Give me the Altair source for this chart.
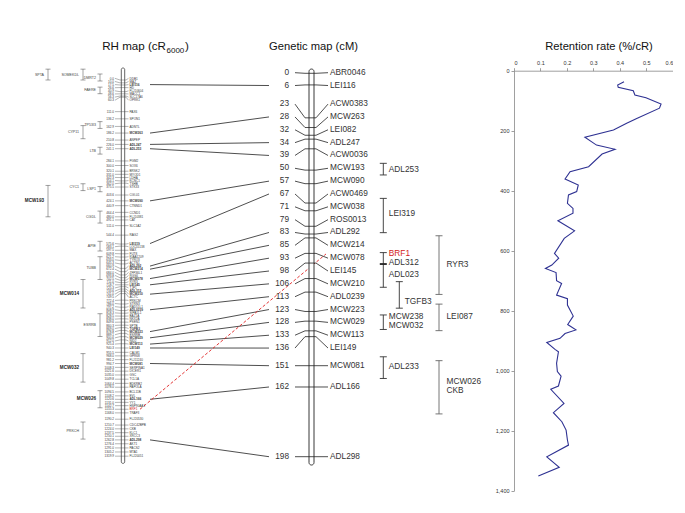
import altair as alt
import pandas as pd

# ---------------- Genetic map (cM) ----------------
gen_cm = [0, 6, 23, 28, 32, 34, 39, 50, 57, 67, 71, 79, 83, 85, 93, 98, 106, 113,
          123, 128, 133, 136, 151, 162, 198]
gen_names = ["ABR0046", "LEI116", "ACW0383", "MCW263", "LEI082", "ADL247", "ACW0036",
             "MCW193", "MCW090", "ACW0469", "MCW038", "ROS0013", "ADL292", "MCW214",
             "MCW078", "LEI145", "MCW210", "ADL0239", "MCW223", "MCW029", "MCW113",
             "LEI149", "MCW081", "ADL166", "ADL298"]

# brackets right of the genetic map (cM extents, column)
gb_start = [46.5, 64.6, 92.6, 107.6, 124.8, 146.4, 83.9, 119.2, 148.4]
gb_end = [52.5, 82.3, 110.5, 121.3, 132.3, 157.6, 114.2, 132.9, 175.9]
gb_col = ["a", "a", "a", "b", "a", "a", "c", "c", "c"]
gbl_text = ["ADL253", "LEI319", "BRF1", "ADL312", "ADL023", "TGFB3", "MCW238", "MCW032",
            "ADL233", "RYR3", "LEI087", "MCW026", "CKB"]
gbl_cm = [49.7, 72.7, 93.3, 98.2, 104.0, 117.9, 126.0, 130.5, 151.5, 99.0, 125.7, 159.3, 163.9]
gbl_col = ["a", "a", "a", "a", "a", "b", "a", "a", "a", "c", "c", "c", "c"]
gb_mid_cm = [98.5]

# ---------------- RH map (cR6000) ----------------
rh_cr = [0.0, 10.0, 17.5, 26.6, 40.9, 48.6, 56.3, 60.3, 111.0, 136.2, 162.9, 186.2, 210.8,
         226.0, 241.1, 284.1, 300.0, 320.1, 331.0, 342.3, 354.1, 362.0, 375.5, 403.6, 424.1,
         440.9, 464.4, 480.0, 491.1, 511.0, 544.4, 575.6, 583.1, 597.5, 609.8, 621.2, 633.0,
         645.3, 660.9, 672.4, 684.0, 693.8, 702.5, 711.0, 718.7, 725.3, 733.6, 741.0, 749.5,
         772.4, 786.0, 797.2, 808.9, 818.3, 828.5, 838.0, 849.6, 860.3, 869.0, 878.8, 889.1,
         900.6, 912.0, 925.4, 940.3, 955.5, 968.0, 981.2, 994.7, 1008.3, 1021.6, 1035.0,
         1049.8, 1064.4, 1078.0, 1094.5, 1108.2, 1120.6, 1131.0, 1142.7, 1155.3, 1168.0,
         1190.2, 1210.7, 1224.0, 1237.5, 1250.1, 1262.8, 1276.4, 1291.0, 1305.2, 1319.9]
rh_names = ["DDB1", "MAZ", "LEI116", "HD", "FLJ10604", "MACC1", "SLC17A6", "OPRK1", "PAX6",
            "SPON1", "ADNTL", "MCW263", "ANPEP", "ADL247", "ADL253", "PGM2", "SOX6", "BRSK2",
            "MYOD1", "LDHA", "KCNC1", "TSHB", "STK33", "CGI-01", "MCW090", "CTNND1", "CCND1",
            "FLJ10381", "CAT", "SLC1A2", "RAG2", "LEI319", "LOC55138", "MAX", "FUT8",
            "KIAA1209", "TYRO3", "ACTN1", "ADL292", "MCW214", "ZFP36L1", "RGS6", "MCW078",
            "RYR3", "LEI145", "TJP1", "ADL312", "MCW210", "ACTC", "PRKCM", "STRN3", "RAD51L1",
            "ADL0239", "SIPA1L1", "BAZ1A", "NKX2A", "PSEN1", "SPTB", "TGFB3", "MCW223",
            "ESRRB", "MCW029", "NID2", "MCW113", "LEI149", "CALM1", "GPR68", "FLJ11240",
            "MCW081", "SERPINA1", "DICER1", "GSC", "TCL1A", "BDKRB2", "PAPOLA", "BCL11B",
            "EVL", "ADL166", "YY1", "HSP90AA1", "BRF1", "TRAF3", "FLJ20530", "CDC42BPB", "CKB",
            "KLC1", "XRCC3", "ADL298", "AKT1", "PACS2", "MTA1", "FLJ20051"]
rh_bold = ["LEI116", "MCW263", "ADL247", "ADL253", "MCW090", "LEI319", "ADL292", "MCW214",
           "MCW078", "LEI145", "ADL312", "MCW210", "ADL0239", "TGFB3", "MCW223", "MCW029",
           "MCW113", "LEI149", "MCW081", "ADL166", "ADL298"]
rh_red = ["BRF1"]

# brackets left of the RH map (cR extents, level, label)
rb_start = [-21, -38, -38, 25, 146, 160, 236, 374, 364, 370, 460, 566, 620, 700, 820, 960, 1090, 1200]
rb_end = [3.5, 0, 0, 48, 170, 206, 260, 392, 388, 480, 502, 600, 700, 800, 900, 1060, 1150, 1260]
rb_level = [1, 2, 3, 1, 1, 2, 1, 1, 2, 3, 1, 1, 1, 2, 1, 2, 1, 2]
rb_label = ["DMRT2", "SOMEKDL", "SPTA", "FAERE", "TP53I3", "CYP11", "LTB", "LSP1", "CYC1",
            "MCW193", "CGDL", "APIE", "TUBB", "MCW014", "ESRRB", "MCW032", "MCW026", "PRKCH"]
rb_bold = ["MCW193", "MCW014", "MCW032", "MCW026"]

# RH -> genetic map links
link_rh = ["LEI116", "MCW263", "ADL247", "ADL253", "MCW090", "LEI319", "ADL292", "MCW214",
           "MCW078", "LEI145", "MCW210", "ADL0239", "MCW223", "MCW029", "MCW113", "LEI149",
           "MCW081", "ADL166", "ADL298"]
link_gen = ["LEI116", "MCW263", "ADL247", "ACW0036", "MCW090", "ACW0469", "ADL292", "MCW214",
            "MCW078", "LEI145", "MCW210", "ADL0239", "MCW223", "MCW029", "MCW113", "LEI149",
            "MCW081", "ADL166", "ADL298"]

# ---------------- Retention rate ----------------
ret_cr = [37, 48, 55, 67, 81, 90, 111, 125, 159, 175, 198, 222, 248, 262, 278, 320, 337, 361,
          381, 403, 414, 442, 459, 475, 500, 534, 559, 609, 625, 648, 659, 673, 700, 709, 748,
          760, 781, 818, 846, 864, 876, 892, 906, 929, 937, 975, 1003, 1018, 1051, 1062, 1109,
          1140, 1170, 1198, 1231, 1248, 1287, 1322, 1351]
ret_rate = [0.416, 0.392, 0.394, 0.451, 0.457, 0.499, 0.556, 0.55, 0.464, 0.426, 0.376, 0.268,
            0.312, 0.382, 0.333, 0.282, 0.212, 0.193, 0.243, 0.237, 0.206, 0.202, 0.223, 0.223,
            0.166, 0.229, 0.19, 0.153, 0.169, 0.143, 0.119, 0.159, 0.161, 0.18, 0.161, 0.202,
            0.202, 0.224, 0.203, 0.234, 0.193, 0.174, 0.124, 0.155, 0.168, 0.161, 0.164, 0.178,
            0.168, 0.139, 0.189, 0.149, 0.181, 0.197, 0.202, 0.206, 0.124, 0.171, 0.092]

# ---------------- layout helpers ----------------
FONT = "Liberation Sans"
G_TOP, G_BOT = 65.3, 448.7          # pixel range of 0..198 cM
PX_CM = (G_BOT - G_TOP) / 198.0
RH_Y0, RH_K = 72.0, 0.285           # RH pixel position of 0 cR, px per cR


def rh_u(cr):
    return (RH_Y0 + RH_K * cr - G_TOP) / PX_CM


def spread(pos, gap):
    cl = [{"items": [p], "top": p} for p in pos]
    while True:
        merged = False
        new = []
        for c in cl:
            if new:
                prev = new[-1]
                bottom = prev["top"] + (len(prev["items"]) - 1) * gap
                if c["top"] < bottom + gap - 1e-9:
                    items = prev["items"] + c["items"]
                    mean = sum(items) / len(items)
                    new[-1] = {"items": items, "top": mean - (len(items) - 1) * gap / 2}
                    merged = True
                    continue
            new.append(c)
        cl = new
        if not merged:
            break
    out = []
    for c in cl:
        out += [c["top"] + k * gap for k in range(len(c["items"]))]
    return out


SC = alt.Scale(domain=[0, 198], range=[G_TOP, G_BOT], nice=False, zero=False)


def Y(f):
    return alt.Y(f + ":Q", scale=SC, axis=None)


# genetic map frame
gen_lab = spread(gen_cm, 12.84 / PX_CM)
gdf = pd.DataFrame({"cm": gen_cm, "lab": gen_lab, "name": gen_names,
                    "num": [str(v) for v in gen_cm]})

# RH map frame
rh_px = [RH_Y0 + RH_K * c for c in rh_cr]
rh_lab_px = spread(rh_px, 3.12)
rdf = pd.DataFrame({"u": [rh_u(c) for c in rh_cr],
                    "lab": [(p - G_TOP) / PX_CM for p in rh_lab_px],
                    "name": rh_names,
                    "num": [f"{c:.1f}" for c in rh_cr]})
rdf["bold"] = rdf["name"].isin(rh_bold)
rdf["col"] = ["#d42020" if n in rh_red else "#3a3a3a" for n in rh_names]

layers = []
BLACK = "#222222"

# ---- RH map ----
rh_bar = pd.DataFrame({"t": [rh_u(-42)], "b": [rh_u(1345)]})
layers.append(alt.Chart(rh_bar).mark_rect(fill="white", stroke=BLACK, strokeWidth=0.7,
                                          cornerRadius=1.5)
              .encode(x=alt.value(113.3), x2=alt.value(116.7), y=Y("t"), y2="b:Q"))
layers.append(alt.Chart(rdf).mark_rule(color="#444", strokeWidth=0.4)
              .encode(x=alt.value(107), x2=alt.value(112), y=Y("lab"), y2="u:Q"))
layers.append(alt.Chart(rdf).mark_rule(color="#444", strokeWidth=0.4)
              .encode(x=alt.value(112), x2=alt.value(118), y=Y("u")))
layers.append(alt.Chart(rdf).mark_rule(color="#444", strokeWidth=0.4)
              .encode(x=alt.value(118), x2=alt.value(120.5), y=Y("u"), y2="lab:Q"))
layers.append(alt.Chart(rdf).mark_text(align="right", baseline="middle", fontSize=3.1,
                                       font=FONT, color="#3a3a3a")
              .encode(x=alt.value(106), y=Y("lab"), text="num:N"))
layers.append(alt.Chart(rdf[~rdf["bold"]]).mark_text(align="left", baseline="middle",
                                                     fontSize=3.1, font=FONT)
              .encode(x=alt.value(121.5), y=Y("lab"), text="name:N",
                      color=alt.Color("col:N", scale=None)))
layers.append(alt.Chart(rdf[rdf["bold"]]).mark_text(align="left", baseline="middle",
                                                    fontSize=3.2, font=FONT, fontWeight="bold")
              .encode(x=alt.value(121.5), y=Y("lab"), text="name:N",
                      color=alt.Color("col:N", scale=None)))

# RH brackets
lvl_x = {1: 92, 2: 75, 3: 40}
rbdf = pd.DataFrame({"t": [rh_u(c) for c in rb_start], "b": [rh_u(c) for c in rb_end],
                     "lvl": rb_level, "label": rb_label})
rbdf["mid"] = (rbdf["t"] + rbdf["b"]) / 2
for lv, xx in lvl_x.items():
    sub = rbdf[rbdf["lvl"] == lv]
    layers.append(alt.Chart(sub).mark_rule(color="#444", strokeWidth=0.5)
                  .encode(x=alt.value(xx), y=Y("t"), y2="b:Q"))
    for fld in ["t", "b"]:
        layers.append(alt.Chart(sub).mark_rule(color="#444", strokeWidth=0.5)
                      .encode(x=alt.value(xx - 2.5), x2=alt.value(xx + 2.5), y=Y(fld)))
    nb = sub[~sub["label"].isin(rb_bold)]
    bb = sub[sub["label"].isin(rb_bold)]
    layers.append(alt.Chart(nb).mark_text(align="right", baseline="middle", fontSize=3.6,
                                          font=FONT, color="#444")
                  .encode(x=alt.value(xx - 4), y=Y("mid"), text="label:N"))
    layers.append(alt.Chart(bb).mark_text(align="right", baseline="middle", fontSize=4.6,
                                          font=FONT, fontWeight="bold", color="#222")
                  .encode(x=alt.value(xx - 4), y=Y("mid"), text="label:N"))

# ---- links RH -> genetic ----
rh_lab_of = dict(zip(rh_names, rdf["lab"]))
gen_lab_of = dict(zip(gen_names, gen_lab))
ldf = pd.DataFrame({"a": [rh_lab_of[n] for n in link_rh], "b": [gen_lab_of[n] for n in link_gen]})
layers.append(alt.Chart(ldf).mark_rule(color=BLACK, strokeWidth=0.8)
              .encode(x=alt.value(142), x2=alt.value(261), y=Y("a"), y2="b:Q"))
brf = pd.DataFrame({"a": [rh_lab_of["BRF1"]], "b": [93.3]})
layers.append(alt.Chart(brf).mark_rule(color="#e02020", strokeWidth=0.9, strokeDash=[3, 2])
              .encode(x=alt.value(132), x2=alt.value(318), y=Y("a"), y2="b:Q"))

# ---- genetic map ----
gbar = pd.DataFrame({"t": [-2.2], "b": [202.3]})
layers.append(alt.Chart(gbar).mark_rect(fill="white", stroke=BLACK, strokeWidth=0.9,
                                        cornerRadius=2.5)
              .encode(x=alt.value(301), x2=alt.value(306), y=Y("t"), y2="b:Q"))
layers.append(alt.Chart(gdf).mark_rule(color=BLACK, strokeWidth=0.8)
              .encode(x=alt.value(287), x2=alt.value(297), y=Y("lab"), y2="cm:Q"))
layers.append(alt.Chart(gdf).mark_rule(color=BLACK, strokeWidth=0.8)
              .encode(x=alt.value(297), x2=alt.value(308), y=Y("cm")))
layers.append(alt.Chart(gdf).mark_rule(color=BLACK, strokeWidth=0.8)
              .encode(x=alt.value(308), x2=alt.value(320), y=Y("cm"), y2="lab:Q"))
layers.append(alt.Chart(gdf).mark_text(align="right", baseline="middle", fontSize=8.3,
                                       font=FONT, color="#333")
              .encode(x=alt.value(281), y=Y("lab"), text="num:N"))
layers.append(alt.Chart(gdf).mark_text(align="left", baseline="middle", fontSize=8.3,
                                       font=FONT, color="#333")
              .encode(x=alt.value(322), y=Y("lab"), text="name:N"))

# genetic brackets
col_x = {"a": 375.3, "b": 391.3, "c": 431.0}
col_c = {"a": "#333333", "b": "#333333", "c": "#666666"}
gbdf = pd.DataFrame({"t": gb_start, "b": gb_end, "col": gb_col})
gldf = pd.DataFrame({"cm": gbl_cm, "text": gbl_text, "col": gbl_col})
gldf["tc"] = ["#d42020" if t == "BRF1" else "#333333" for t in gbl_text]
for c, xx in col_x.items():
    sub = gbdf[gbdf["col"] == c]
    layers.append(alt.Chart(sub).mark_rule(color=col_c[c], strokeWidth=0.9)
                  .encode(x=alt.value(xx), y=Y("t"), y2="b:Q"))
    for fld in ["t", "b"]:
        layers.append(alt.Chart(sub).mark_rule(color=col_c[c], strokeWidth=0.9)
                      .encode(x=alt.value(xx - 3.5), x2=alt.value(xx + 3.5), y=Y(fld)))
    lsub = gldf[gldf["col"] == c]
    layers.append(alt.Chart(lsub).mark_text(align="left", baseline="middle", fontSize=8.3,
                                            font=FONT)
                  .encode(x=alt.value(xx + (7.5 if c == "c" else 5.5)), y=Y("cm"), text="text:N",
                          color=alt.Color("tc:N", scale=None)))
mid = pd.DataFrame({"m": gb_mid_cm})
layers.append(alt.Chart(mid).mark_rule(color=BLACK, strokeWidth=1.8)
              .encode(x=alt.value(371.8), x2=alt.value(378.8), y=Y("m")))

# ---- titles ----
def title(txt, x, y, size=11.2, align="center"):
    return alt.Chart(pd.DataFrame({"t": [txt]})).mark_text(
        align=align, baseline="alphabetic", fontSize=size, font=FONT, color="#111"
    ).encode(x=alt.value(x), y=alt.value(y), text="t:N")

layers.append(title("RH map (cR", 158, 41.5, size=11.6, align="right"))
layers.append(title("6000", 158.5, 44.8, size=8, align="left"))
layers.append(title(")", 177, 41.5, size=11.6, align="left"))
layers.append(title("Genetic map (cM)", 305.5, 41.5))
layers.append(title("Retention rate (%/cR)", 591, 41.5))

maps = alt.layer(*layers)

# ---- retention rate line ----
rdf2 = pd.DataFrame({"cr": ret_cr, "rate": ret_rate, "i": list(range(len(ret_cr)))})
ret = alt.Chart(rdf2).mark_line(color="#2E3192", strokeWidth=1.1).encode(
    x=alt.X("rate:Q",
            scale=alt.Scale(domain=[0, 0.6], range=[506, 664.7], nice=False, zero=False),
            axis=alt.Axis(orient="top", values=[0, 0.1, 0.2, 0.3, 0.4, 0.5, 0.6], format="~g",
                          offset=-62.7, title=None, grid=False, domainColor="#888",
                          tickColor="#888", tickSize=3, labelFontSize=5.5, labelColor="#333",
                          labelFont=FONT, labelPadding=2, domainWidth=0.8, tickWidth=0.8)),
    y=alt.Y("cr:Q",
            scale=alt.Scale(domain=[0, 1400], range=[62.7, 482.7], nice=False, zero=False),
            axis=alt.Axis(orient="left", values=list(range(0, 1401, 200)), offset=-506,
                          title=None, grid=False, domainColor="#888", tickColor="#888",
                          tickSize=3, labelFontSize=5.5, labelColor="#333", labelFont=FONT,
                          labelPadding=2, domainWidth=0.8, tickWidth=0.8)),
    order="i:Q",
)

chart = alt.layer(maps, ret).resolve_scale(x="independent", y="independent").properties(
    width=665, height=490, padding=0, autosize=alt.AutoSizeParams(type="none"),
    background="white",
).configure_view(stroke=None)

chart.save("out.html", embed_options={"renderer": "svg", "actions": False})
